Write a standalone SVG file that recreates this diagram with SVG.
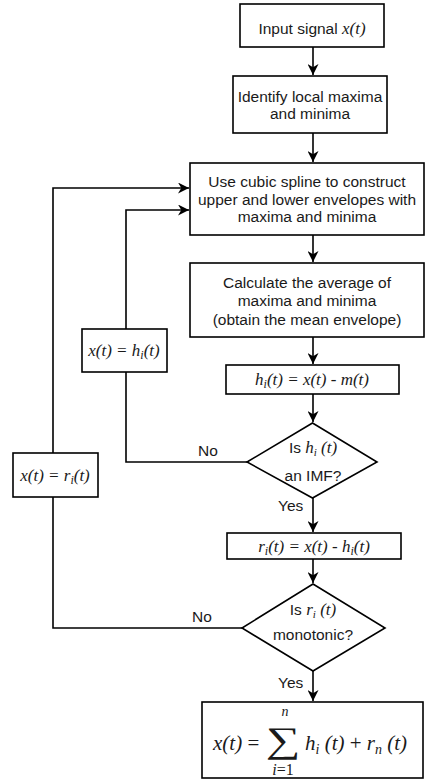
<svg xmlns="http://www.w3.org/2000/svg" width="425" height="781" viewBox="0 0 425 781">
<style>
.box{fill:#fff;stroke:#000;stroke-width:1.6}
.ln{fill:none;stroke:#000;stroke-width:1.6}
.t{font-family:"Liberation Sans",Arial,sans-serif;font-size:15.5px;fill:#1a1a1a;text-anchor:middle}
.m{font-family:"Liberation Serif","Times New Roman",serif;font-style:italic;font-size:17px;fill:#1a1a1a;text-anchor:middle}
.mi{font-family:"Liberation Serif","Times New Roman",serif;font-style:italic;font-size:17px}
.lbl{font-family:"Liberation Sans",Arial,sans-serif;font-size:15.5px;fill:#1a1a1a}
.f{font-family:"Liberation Serif","Times New Roman",serif;fill:#1a1a1a}
</style>
<defs>
<marker id="ah" viewBox="0 0 10 10" refX="10" refY="5" markerWidth="11" markerHeight="11" markerUnits="userSpaceOnUse" orient="auto">
<path d="M0,0 L10,5 L0,10 L3,5 z" fill="#000"/>
</marker>
</defs>
<rect width="425" height="781" fill="#fff"/>
<g id="connectors">
<line class="ln" x1="313" y1="47" x2="313" y2="75" marker-end="url(#ah)"/>
<line class="ln" x1="313" y1="133" x2="313" y2="162" marker-end="url(#ah)"/>
<line class="ln" x1="313" y1="235" x2="313" y2="262" marker-end="url(#ah)"/>
<line class="ln" x1="313" y1="337" x2="313" y2="364" marker-end="url(#ah)"/>
<line class="ln" x1="313" y1="394" x2="313" y2="422" marker-end="url(#ah)"/>
<line class="ln" x1="313" y1="498" x2="313" y2="532" marker-end="url(#ah)"/>
<line class="ln" x1="313" y1="559" x2="313" y2="583" marker-end="url(#ah)"/>
<line class="ln" x1="313" y1="671" x2="313" y2="701" marker-end="url(#ah)"/>
<polyline class="ln" points="247,462 126,462 126,372"/>
<polyline class="ln" points="126,329 126,210 189,210" marker-end="url(#ah)"/>
<polyline class="ln" points="242,628 53,628 53,497"/>
<polyline class="ln" points="53,453 53,188 189,188" marker-end="url(#ah)"/>
<text class="lbl" x="198" y="456">No</text>
<text class="lbl" x="278" y="511">Yes</text>
<text class="lbl" x="192" y="622">No</text>
<text class="lbl" x="278" y="688">Yes</text>
</g>
<g id="input">
<rect class="box" x="240" y="4" width="144" height="43"/>
<text class="t" x="312" y="34">Input signal <tspan class="mi">x(t)</tspan></text>
</g>
<g id="identify">
<rect class="box" x="233" y="76" width="154" height="57"/>
<text class="t" x="310" y="102">Identify local maxima</text>
<text class="t" x="310" y="119">and minima</text>
</g>
<g id="spline">
<rect class="box" x="190" y="163" width="234" height="72"/>
<text class="t" x="307" y="187">Use cubic spline to construct</text>
<text class="t" x="307" y="205">upper and lower envelopes with</text>
<text class="t" x="307" y="222">maxima and minima</text>
</g>
<g id="average">
<rect class="box" x="190" y="263" width="234" height="74"/>
<text class="t" x="307" y="288">Calculate the average of</text>
<text class="t" x="307" y="306">maxima and minima</text>
<text class="t" x="307" y="325">(obtain the mean envelope)</text>
</g>
<g id="hcalc">
<rect class="box" x="226" y="365" width="173" height="29"/>
<text class="m" x="312" y="385">h<tspan font-size="12" dy="3">i</tspan><tspan dy="-3">(t) = x(t) - m(t)</tspan></text>
</g>
<g id="imf">
<polygon class="box" points="312.5,423 377,462 312.5,498 247,462"/>
<text class="t" x="313" y="453">Is <tspan class="mi" font-size="16">h<tspan font-size="11" dy="3">i</tspan><tspan dy="-3"> (t)</tspan></tspan></text>
<text class="t" x="313" y="481">an IMF?</text>
</g>
<g id="xh">
<rect class="box" x="82" y="329" width="85" height="43"/>
<text class="m" x="124" y="356">x(t) = h<tspan font-size="12" dy="3">i</tspan><tspan dy="-3">(t)</tspan></text>
</g>
<g id="rcalc">
<rect class="box" x="227" y="533" width="174" height="26"/>
<text class="m" x="314" y="552">r<tspan font-size="12" dy="3">i</tspan><tspan dy="-3">(t) = x(t) - h</tspan><tspan font-size="12" dy="3">i</tspan><tspan dy="-3">(t)</tspan></text>
</g>
<g id="mono">
<polygon class="box" points="313,584 385,628 313,671 242,628"/>
<text class="t" x="313" y="615">Is <tspan class="mi" font-size="16">r<tspan font-size="11" dy="3">i</tspan><tspan dy="-3"> (t)</tspan></tspan></text>
<text class="t" x="313" y="640">monotonic?</text>
</g>
<g id="xr">
<rect class="box" x="13" y="453" width="85" height="44"/>
<text class="m" x="55" y="481">x(t) = r<tspan font-size="12" dy="3">i</tspan><tspan dy="-3">(t)</tspan></text>
</g>
<g id="result">
<rect class="box" x="202" y="702" width="221" height="76"/>
<text class="f" font-size="21" x="213" y="750"><tspan font-style="italic">x(t)</tspan> =</text>
<text class="f" font-size="36" x="0" y="0" text-anchor="middle" transform="translate(283,752) scale(1.35,1)">∑</text>
<text class="f" font-size="14" font-style="italic" x="285" y="716" text-anchor="middle">n</text>
<text class="f" font-size="16" x="283" y="775" text-anchor="middle"><tspan font-style="italic">i</tspan>=1</text>
<text class="f" font-size="21" x="305" y="750"><tspan font-style="italic">h</tspan><tspan font-style="italic" font-size="14" dy="4">i</tspan><tspan dy="-4" font-style="italic"> (t)</tspan> + <tspan font-style="italic">r</tspan><tspan font-style="italic" font-size="14" dy="4">n</tspan><tspan dy="-4" font-style="italic"> (t)</tspan></text>
</g>
</svg>
